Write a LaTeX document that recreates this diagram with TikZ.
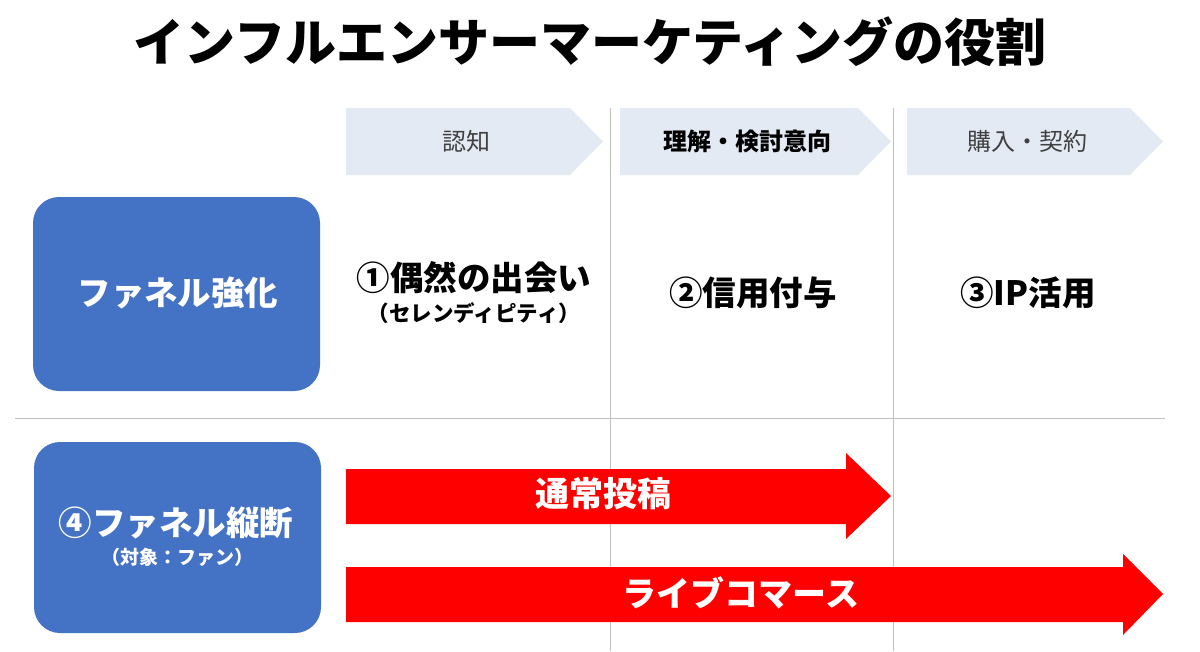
\documentclass[tikz,border=0pt]{standalone}
\usepackage{fontspec}
\setmainfont{Noto Sans CJK JP}
\usetikzlibrary{positioning}
\definecolor{boxblue}{HTML}{4472C4}
\definecolor{chev}{HTML}{E4EAF4}
\definecolor{gridgray}{HTML}{BFBFBF}
\definecolor{redarrow}{HTML}{FF0000}
\definecolor{hdrtext}{HTML}{404040}
\tikzset{
  bluebox/.style={fill=boxblue, draw=none, rounded corners=26pt},
  chevshape/.style={fill=chev, draw=none},
  gridline/.style={draw=gridgray, line width=0.8pt},
  redshape/.style={fill=redarrow, draw=none},
  hdr/.style={font=\fontsize{24}{28}\selectfont, text=hdrtext, inner sep=0pt},
  cell/.style={font=\bfseries\fontsize{33.5}{38}\selectfont, text=black, inner sep=0pt},
  sub/.style={font=\bfseries\fontsize{21.5}{24}\selectfont, text=black, inner sep=0pt},
  boxtext/.style={font=\bfseries\fontsize{33.5}{38}\selectfont, text=white, inner sep=0pt},
  arrtext/.style={font=\bfseries\fontsize{34}{38}\selectfont, text=white, inner sep=0pt},
}
\begin{document}
\begin{tikzpicture}[x=1pt,y=-1pt]
\useasboundingbox (0,0) rectangle (1200,651);
\fill[white] (0,0) rectangle (1200,651);
% title
\node[font=\bfseries\fontsize{51}{56}\selectfont, inner sep=0pt] (title) at (590,42) {インフルエンサーマーケティングの役割};
% grid lines
\draw[gridline] (610,108) -- (610,651);
\draw[gridline] (893,108) -- (893,651);
\draw[gridline] (15,418) -- (1165,418);
% chevrons
\fill[chevshape] (346,108) -- (570,108) -- (603,141.5) -- (570,175) -- (346,175) -- cycle;
\fill[chevshape] (620,108) -- (858,108) -- (891,141.5) -- (858,175) -- (620,175) -- cycle;
\fill[chevshape] (907,108) -- (1130,108) -- (1163,141.5) -- (1130,175) -- (907,175) -- cycle;
\node[hdr] (h1) at (466,141.5) {認知};
\node[hdr, text=black, font=\bfseries\fontsize{24}{28}\selectfont] (h2) at (747,141.5) {理解・検討意向};
\node[hdr] (h3) at (1027,141.5) {購入・契約};
% blue boxes
\fill[bluebox] (33,197) rectangle (320,391);
\fill[bluebox] (34,442) rectangle (321,633);
\node[boxtext] (b1) at (178,293) {ファネル強化};
\node[boxtext] (b2) at (176,523) {④ファネル縦断};
\node[font=\bfseries\fontsize{19}{22}\selectfont, text=white, inner sep=0pt] (b2s) at (177,557) {（対象：ファン）};
% row 1 texts
\node[cell] (c1) at (474,278) {①偶然の出会い};
\node[sub] (c1s) at (474,313) {（セレンディピティ）};
\node[cell] (c2) at (753,293) {②信用付与};
\node[cell] (c3) at (1028,293) {③IP活用};
% red arrows
\fill[redshape] (346,469) -- (846,469) -- (846,453) -- (891,496) -- (846,539) -- (846,524) -- (346,524) -- cycle;
\fill[redshape] (346,567) -- (1123,567) -- (1123,554) -- (1163,594) -- (1123,635) -- (1123,622) -- (346,622) -- cycle;
\node[arrtext] (a1) at (603,494) {通常投稿};
\node[arrtext] (a2) at (741,593) {ライブコマース};
\end{tikzpicture}
\end{document}
